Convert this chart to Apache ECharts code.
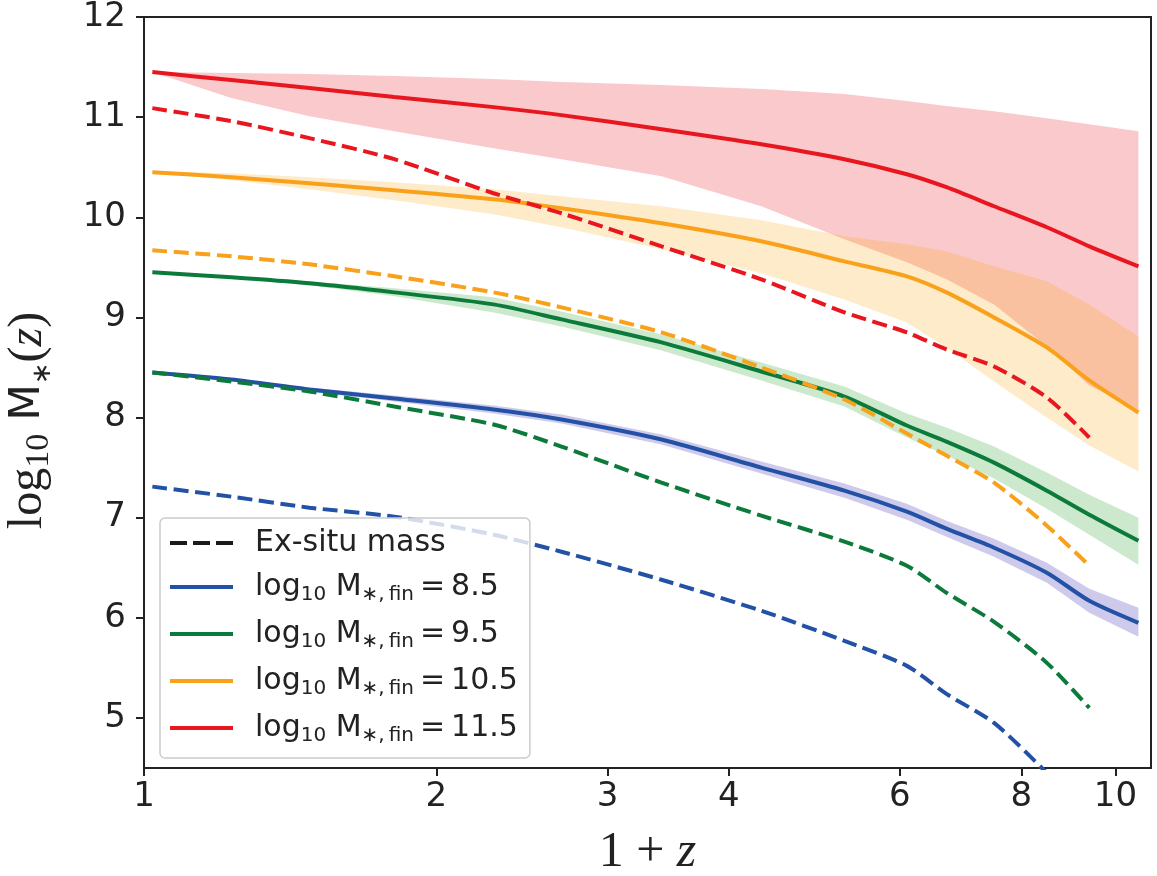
<!DOCTYPE html>
<html><head><meta charset="utf-8">
<script src="https://cdn.jsdelivr.net/npm/echarts@6/dist/echarts.min.js"></script>
<style>html,body{margin:0;padding:0;background:#fff}#c{width:1157px;height:876px}</style>
</head><body><div id="c"></div>
<script>
// 1+z sample points
const xVals = [1.02, 1.23, 1.48, 1.81, 2.29, 2.69, 3.41, 4.32, 5.26, 6.1, 6.7, 7.5, 8.5, 9.4, 10.56];
const xTicks = [1, 2, 3, 4, 6, 8, 10];
const yTicks = [5, 6, 7, 8, 9, 10, 11, 12];
const finLabels = ['8.5', '9.5', '10.5', '11.5'];

// log10 M*,fin = 11.5
const m115   = [11.45, 11.37, 11.29, 11.20, 11.10, 11.02, 10.88, 10.73, 10.58, 10.43, 10.30, 10.11, 9.90, 9.71, 9.51];
const m115Hi = [11.45, 11.44, 11.43, 11.41, 11.38, 11.35, 11.32, 11.28, 11.23, 11.16, 11.11, 11.06, 10.99, 10.93, 10.86];
const m115Lo = [11.45, 11.19, 11.01, 10.86, 10.69, 10.58, 10.41, 10.11, 9.78, 9.55, 9.38, 9.13, 8.71, 8.32, 8.08];
const ex115  = [11.09, 10.96, 10.79, 10.58, 10.24, 10.04, 9.71, 9.38, 9.05, 8.85, 8.68, 8.51, 8.20, 7.80, null];
// 10.5
const m105   = [10.45, 10.40, 10.34, 10.27, 10.18, 10.09, 9.94, 9.76, 9.56, 9.41, 9.25, 9.00, 8.70, 8.37, 8.05];
const m105Hi = [10.46, 10.44, 10.40, 10.35, 10.28, 10.21, 10.11, 9.97, 9.81, 9.73, 9.66, 9.51, 9.36, 9.13, 8.81];
const m105Lo = [10.45, 10.37, 10.28, 10.17, 10.03, 9.90, 9.68, 9.44, 9.18, 8.95, 8.70, 8.36, 8.00, 7.72, 7.46];
const ex105  = [9.67, 9.61, 9.53, 9.41, 9.25, 9.10, 8.85, 8.50, 8.18, 7.84, 7.62, 7.35, 6.92, 6.52, null];
// 9.5
const m95    = [9.45, 9.40, 9.34, 9.25, 9.13, 8.98, 8.75, 8.46, 8.21, 7.92, 7.76, 7.55, 7.27, 7.03, 6.77];
const m95Hi  = [9.45, 9.41, 9.36, 9.29, 9.20, 9.06, 8.83, 8.55, 8.31, 8.04, 7.90, 7.71, 7.45, 7.23, 7.00];
const m95Lo  = [9.45, 9.39, 9.32, 9.21, 9.05, 8.91, 8.67, 8.37, 8.11, 7.80, 7.62, 7.39, 7.09, 6.83, 6.53];
const ex95   = [8.45, 8.36, 8.26, 8.11, 7.93, 7.71, 7.35, 7.02, 6.76, 6.52, 6.25, 5.96, 5.55, 5.10, null];
// 8.5
const m85    = [8.45, 8.38, 8.28, 8.19, 8.08, 7.98, 7.78, 7.50, 7.27, 7.06, 6.89, 6.70, 6.45, 6.17, 5.95];
const m85Hi  = [8.45, 8.39, 8.30, 8.22, 8.12, 8.03, 7.83, 7.56, 7.34, 7.14, 6.97, 6.79, 6.55, 6.29, 6.10];
const m85Lo  = [8.45, 8.37, 8.26, 8.16, 8.04, 7.94, 7.73, 7.44, 7.20, 6.98, 6.81, 6.61, 6.35, 6.05, 5.81];
const ex85   = [7.31, 7.21, 7.10, 7.01, 6.83, 6.66, 6.38, 6.07, 5.77, 5.52, 5.24, 4.95, 4.45, 4.00, null];

const RED = '#e8171f', ORANGE = '#f9a11b', GREEN = '#0b7a3a', BLUE = '#2351a6';
const DASH = [15, 6.5];
const LW = 4;
const lg = Math.log10;

function pts(arr) {
  const out = [];
  xVals.forEach((x, i) => { if (arr[i] != null) out.push([lg(x), arr[i]]); });
  return out;
}
function lineS(name, arr, color, dashed) {
  return {type: 'line', name: name, data: pts(arr), symbol: 'none', showSymbol: false, z: 3, silent: true,
    smooth: 0.25,
    lineStyle: {color: color, width: LW, type: dashed ? DASH : 'solid', cap: 'butt'},
    itemStyle: {color: color}, emphasis: {disabled: true}};
}
function bandS(lo, hi, fill) {
  return {
    type: 'custom', z: 1, silent: true,
    data: xVals.map((x, i) => [lg(x), lo[i], hi[i]]),
    encode: {x: 0, y: [1, 2]},
    renderItem: function (params, api) {
      if (params.dataIndex !== 0) return null;
      const top = [], bot = [];
      for (let i = 0; i < xVals.length; i++) {
        top.push(api.coord([lg(xVals[i]), hi[i]]));
        bot.push(api.coord([lg(xVals[i]), lo[i]]));
      }
      const cs = params.coordSys;
      return {
        type: 'polygon',
        shape: {points: top.concat(bot.reverse())},
        style: {fill: fill, stroke: null},
        clipPath: {type: 'rect', shape: {x: cs.x, y: cs.y, width: cs.width, height: cs.height}}
      };
    }
  };
}

const series = [
  bandS(m115Lo, m115Hi, 'rgba(233,30,40,0.24)'),
  bandS(m105Lo, m105Hi, 'rgba(250,165,10,0.22)'),
  bandS(m95Lo, m95Hi, 'rgba(40,160,40,0.23)'),
  bandS(m85Lo, m85Hi, 'rgba(70,60,180,0.27)'),
  {type: 'line', name: 'Ex-situ mass', data: [], symbol: 'none',
    lineStyle: {color: '#1a1a1a', width: LW, type: DASH}, itemStyle: {color: '#1a1a1a'}},
  lineS('8.5', m85, BLUE, false),
  lineS('9.5', m95, GREEN, false),
  lineS('10.5', m105, ORANGE, false),
  lineS('11.5', m115, RED, false),
  lineS('ex85', ex85, BLUE, true),
  lineS('ex95', ex95, GREEN, true),
  lineS('ex105', ex105, ORANGE, true),
  lineS('ex115', ex115, RED, true)
];

const SOLID_ICON = 'path://M0,0h63v4h-63z';
const DASH_ICON = 'path://M0,0h17v4h-17z M23,0h17v4h-17z M46,0h17v4h-17z';

const TXT = '#222222';
const chart = echarts.init(document.getElementById('c'), null, {renderer: 'canvas'});
chart.setOption({
  animation: false,
  backgroundColor: '#ffffff',
  grid: {left: 144, right: 6, top: 17, bottom: 108, show: true, borderColor: '#222', borderWidth: 2,
    backgroundColor: 'transparent', containLabel: false, outerBoundsMode: 'none'},
  xAxis: {
    type: 'value', min: 0, max: lg(10.88),
    axisLine: {show: true, lineStyle: {color: '#222', width: 2}},
    axisTick: {show: true, length: 8, lineStyle: {color: '#222', width: 2}, customValues: xTicks.map(lg)},
    axisLabel: {customValues: xTicks.map(lg), formatter: v => String(Math.round(Math.pow(10, v))),
      fontFamily: 'DejaVu Sans', fontSize: 34, color: TXT, margin: 12},
    splitLine: {show: false},
    name: '{a|1 + }{i|z}', nameLocation: 'middle', nameGap: 60,
    nameTextStyle: {rich: {
      a: {fontFamily: 'Liberation Serif', fontSize: 50, color: TXT},
      i: {fontFamily: 'Liberation Serif', fontStyle: 'italic', fontSize: 50, color: TXT}
    }}
  },
  yAxis: {
    type: 'value', min: 4.5, max: 12,
    axisLine: {show: true, lineStyle: {color: '#222', width: 2}},
    axisTick: {show: true, length: 8, lineStyle: {color: '#222', width: 2}, customValues: yTicks},
    axisLabel: {customValues: yTicks, fontFamily: 'DejaVu Sans', fontSize: 34, color: TXT, margin: 18},
    splitLine: {show: false},
    name: '{r|log}{rs|10}{m| M}{ms|∗}{r|(}{ri|z}{r|)}', nameLocation: 'middle', nameGap: 88,
    nameTextStyle: {padding: [0, 56, 0, 0], rich: {
      r: {fontFamily: 'Liberation Serif', fontSize: 48, color: TXT, lineHeight: 56},
      rs: {fontFamily: 'Liberation Serif', fontSize: 34, color: TXT, verticalAlign: 'bottom', lineHeight: 34},
      m: {fontFamily: 'DejaVu Sans', fontSize: 42, color: TXT, lineHeight: 56},
      ms: {fontFamily: 'DejaVu Sans', fontSize: 26, color: TXT, verticalAlign: 'bottom', lineHeight: 34},
      ri: {fontFamily: 'Liberation Serif', fontStyle: 'italic', fontSize: 48, color: TXT, lineHeight: 56}
    }}
  },
  legend: {
    show: true, orient: 'vertical', left: 160, top: 518,
    data: [{name: 'Ex-situ mass', icon: DASH_ICON}].concat(finLabels.map(n => ({name: n, icon: SOLID_ICON}))),
    itemWidth: 63, itemHeight: 36, itemGap: 14, symbolKeepAspect: true,
    padding: [10, 12, 12, 10],
    backgroundColor: 'rgba(255,255,255,0.8)', borderColor: '#cccccc', borderWidth: 1.5, borderRadius: 5,
    selectedMode: false,
    formatter: function (name) {
      if (name === 'Ex-situ mass') return '{f|Ex-situ mass}';
      return '{f|log}{s|10}{t| M}{s|∗,\u2009fin}{t|\u2009=\u2009' + name + '}';
    },
    textStyle: {color: TXT, rich: {
      f: {fontFamily: 'DejaVu Sans', fontSize: 30, color: TXT, lineHeight: 36, padding: [0, 0, 0, 17]},
      t: {fontFamily: 'DejaVu Sans', fontSize: 30, color: TXT, lineHeight: 36},
      s: {fontFamily: 'DejaVu Sans', fontSize: 20, color: TXT, lineHeight: 26, verticalAlign: 'bottom'}
    }}
  },
  series: series
});
</script></body></html>
